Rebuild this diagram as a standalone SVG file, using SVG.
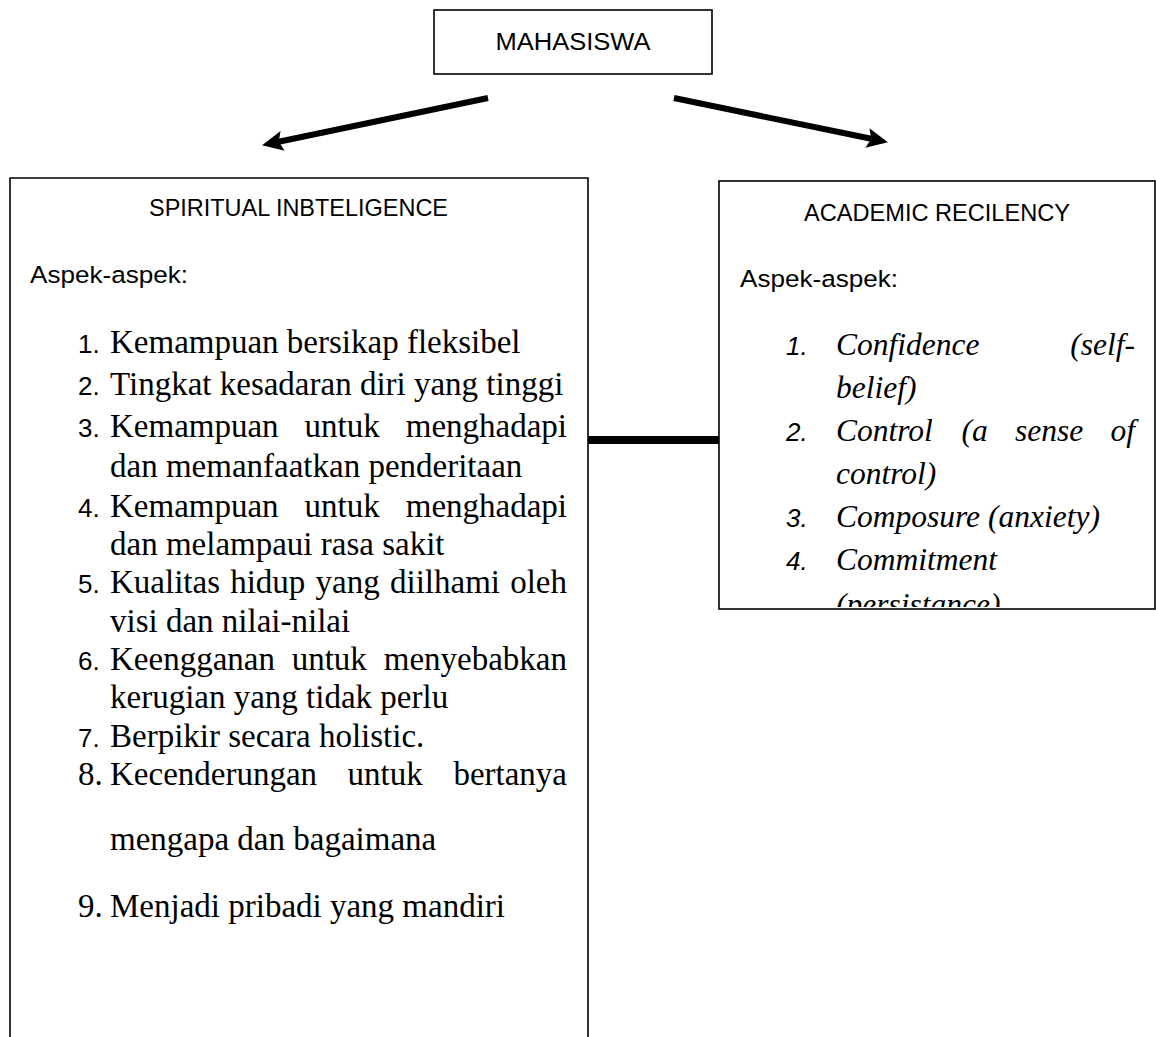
<svg xmlns="http://www.w3.org/2000/svg" width="1156" height="1037" viewBox="0 0 1156 1037">
<style>
.box{fill:none;stroke:#000;stroke-width:1.6}
.h{font-family:"Liberation Sans",Arial,sans-serif;font-size:24.5px;fill:#000}
.n{font-family:"Liberation Sans",Arial,sans-serif;font-size:26px;fill:#000}
.ni{font-family:"Liberation Sans",Arial,sans-serif;font-size:26px;font-style:italic;fill:#000}
.s{font-family:"Liberation Serif","Times New Roman",serif;font-size:33px;fill:#000}
.i{font-family:"Liberation Serif","Times New Roman",serif;font-size:31.5px;font-style:italic;fill:#000}
.arrow{stroke:#000;stroke-width:6;fill:none}
</style>
<defs>
<marker id="ah" markerUnits="userSpaceOnUse" markerWidth="24" markerHeight="24" refX="4" refY="11" orient="auto">
<path d="M0,1 L21,11 L0,21 L4,11 z" fill="#000"/>
</marker>
<clipPath id="rclip"><rect x="719" y="181" width="436" height="426"/></clipPath>
</defs>
<rect width="1156" height="1037" fill="#fff"/>

<g id="connectors">
<line class="arrow" x1="488" y1="98" x2="278.7" y2="141.7" marker-end="url(#ah)"/>
<line class="arrow" x1="674" y1="98" x2="871.3" y2="138.8" marker-end="url(#ah)"/>
<line x1="588" y1="440" x2="719" y2="440" stroke="#000" stroke-width="8"/>
</g>

<g id="mahasiswa">
<rect class="box" x="434" y="10" width="278" height="64"/>
<text class="h" x="573" y="50" text-anchor="middle" textLength="155" lengthAdjust="spacingAndGlyphs">MAHASISWA</text>
</g>

<g id="spiritual">
<path class="box" d="M10,1045 V178 H588 V1045"/>
<text class="h" x="298.5" y="216" text-anchor="middle" textLength="299" lengthAdjust="spacingAndGlyphs">SPIRITUAL INBTELIGENCE</text>
<text class="h" x="30" y="283" textLength="158" lengthAdjust="spacingAndGlyphs">Aspek-aspek:</text>

<text class="n" x="78" y="353">1.</text>
<text class="s" x="110" y="353">Kemampuan bersikap fleksibel</text>
<text class="n" x="78" y="395">2.</text>
<text class="s" x="110" y="395">Tingkat kesadaran diri yang tinggi</text>
<text class="n" x="78" y="437">3.</text>
<text class="s" y="437"><tspan x="110">Kemampuan</tspan><tspan x="304.6">untuk</tspan></text>
<text class="s" x="567" y="437" text-anchor="end">menghadapi</text>
<text class="s" x="110" y="477">dan memanfaatkan penderitaan</text>
<text class="n" x="78" y="517">4.</text>
<text class="s" y="517"><tspan x="110">Kemampuan</tspan><tspan x="304.6">untuk</tspan></text>
<text class="s" x="567" y="517" text-anchor="end">menghadapi</text>
<text class="s" x="110" y="555">dan melampaui rasa sakit</text>
<text class="n" x="78" y="593">5.</text>
<text class="s" y="593"><tspan x="110">Kualitas</tspan><tspan x="230.2">hidup</tspan><tspan x="315.6">yang</tspan><tspan x="390">diilhami</tspan></text>
<text class="s" x="567" y="593" text-anchor="end">oleh</text>
<text class="s" x="110" y="632">visi dan nilai-nilai</text>
<text class="n" x="78" y="670">6.</text>
<text class="s" y="670"><tspan x="110">Keengganan</tspan><tspan x="291.7">untuk</tspan></text>
<text class="s" x="567" y="670" text-anchor="end">menyebabkan</text>
<text class="s" x="110" y="708">kerugian yang tidak perlu</text>
<text class="n" x="78" y="747">7.</text>
<text class="s" x="110" y="747">Berpikir secara holistic.</text>
<text class="s" x="78" y="785">8.</text>
<text class="s" y="785"><tspan x="110">Kecenderungan</tspan><tspan x="347.6">untuk</tspan></text>
<text class="s" x="567" y="785" text-anchor="end">bertanya</text>
<text class="s" x="110" y="850">mengapa dan bagaimana</text>
<text class="s" x="78" y="917">9.</text>
<text class="s" x="110" y="917">Menjadi pribadi yang mandiri</text>
</g>

<g id="academic">
<rect class="box" x="719" y="181" width="436" height="428"/>
<text class="h" x="937" y="221" text-anchor="middle" textLength="266" lengthAdjust="spacingAndGlyphs">ACADEMIC RECILENCY</text>
<text class="h" x="740" y="287" textLength="158" lengthAdjust="spacingAndGlyphs">Aspek-aspek:</text>
<g clip-path="url(#rclip)">
<text class="ni" x="786" y="355">1.</text>
<text class="i" x="836" y="355">Confidence</text>
<text class="i" x="1135" y="355" text-anchor="end">(self-</text>
<text class="i" x="836" y="398">belief)</text>
<text class="ni" x="786" y="441">2.</text>
<text class="i" y="441"><tspan x="836">Control</tspan><tspan x="961.4">(a</tspan><tspan x="1015">sense</tspan></text>
<text class="i" x="1135" y="441" text-anchor="end">of</text>
<text class="i" x="836" y="484">control)</text>
<text class="ni" x="786" y="527">3.</text>
<text class="i" x="836" y="527">Composure (anxiety)</text>
<text class="ni" x="786" y="570">4.</text>
<text class="i" x="836" y="570">Commitment</text>
<text class="i" x="836" y="615">(persistance)</text>
</g>
</g>
</svg>
